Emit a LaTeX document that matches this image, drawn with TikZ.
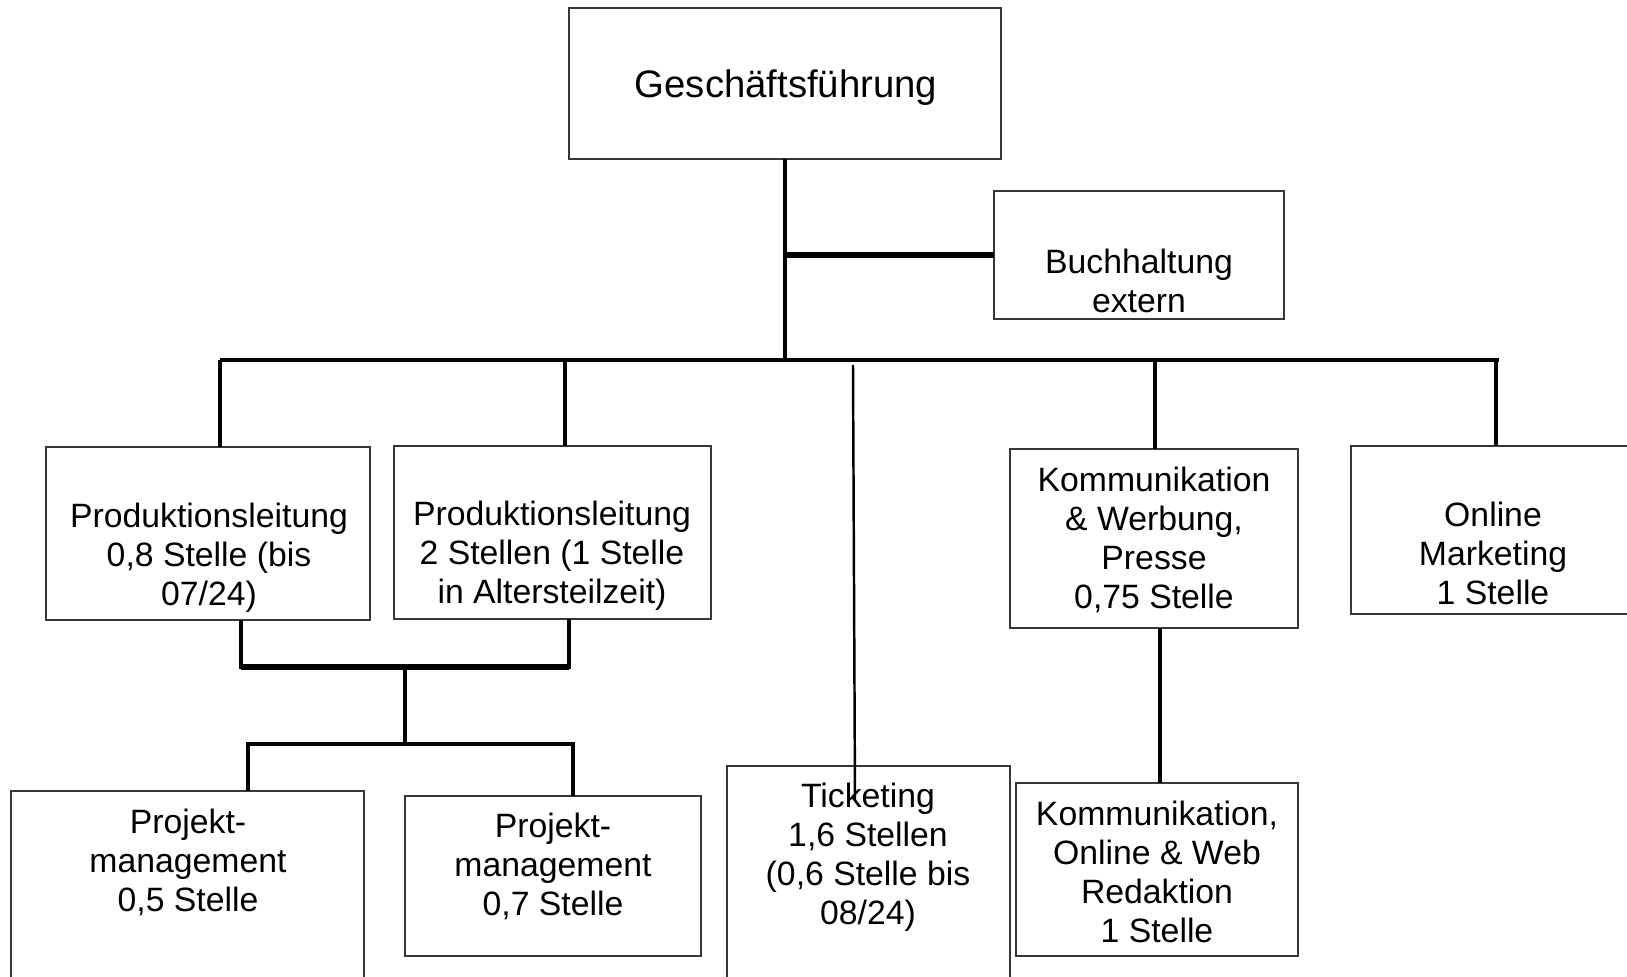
\documentclass[tikz,border=0pt]{standalone}
\usepackage{fontspec}
\setmainfont{Liberation Sans}
\usetikzlibrary{positioning,calc}
\definecolor{BoxGray}{RGB}{55,55,55}

\begin{document}
\begin{tikzpicture}[x=0.01cm,y=-0.01cm,
  box/.style={draw=BoxGray,line width=0.45pt,inner sep=0pt,outer sep=0pt},
  txt/.style={align=center,inner sep=0pt,font=\fontsize{9.6}{11.1}\selectfont},
  bar/.style={line width=1.2pt,line join=miter},
  hbar/.style={line width=1.5pt},
  tline/.style={line width=0.7pt},
]
\useasboundingbox (0,0) rectangle (1627,977);
\clip (0,0) rectangle (1627,977);
% boxes
\node[box,minimum width=4.32cm,minimum height=1.51cm] (gf) at (785,83.5) {};
\node[box,minimum width=2.90cm,minimum height=1.28cm] (bh) at (1139,255) {};
\node[box,minimum width=3.24cm,minimum height=1.73cm] (pl1) at (208,533.5) {};
\node[box,minimum width=3.17cm,minimum height=1.73cm] (pl2) at (552.5,532.5) {};
\node[box,minimum width=2.88cm,minimum height=1.79cm] (kwp) at (1154,538.5) {};
\node[box,minimum width=2.82cm,minimum height=1.68cm] (om) at (1492,530) {};
\node[box,minimum width=3.53cm,minimum height=2.09cm] (pm1) at (187.5,895.5) {};
\node[box,minimum width=2.96cm,minimum height=1.60cm] (pm2) at (553,876) {};
\node[box,minimum width=2.83cm,minimum height=2.34cm] (tix) at (868.5,883) {};
\node[box,minimum width=2.82cm,minimum height=1.73cm] (kow) at (1157,869.5) {};
% texts
\node[txt,font=\fontsize{10.9}{12.5}\selectfont] at (786,88) {Geschäftsführung};
\node[txt] at (1139,281) {Buchhaltung\\extern};
\node[txt] at (209,558) {Produktionsleitung\\0,8 Stelle (bis\\07/24)};
\node[txt] at (552,556) {Produktionsleitung\\2 Stellen (1 Stelle\\in Altersteilzeit)};
\node[txt] at (1154,540) {Kommunikation\\\& Werbung,\\Presse\\0,75 Stelle};
\node[txt] at (1493,553) {Online\\Marketing\\1 Stelle};
\node[txt] at (188,862) {Projekt-\\management\\0,5 Stelle};
\node[txt] at (553,866) {Projekt-\\management\\0,7 Stelle};
\node[txt] at (868,857) {Ticketing\\1,6 Stellen\\(0,6 Stelle bis\\08/24)};
\node[txt] at (1157,872) {Kommunikation,\\Online \& Web\\Redaktion\\1 Stelle};
% connectors
\coordinate (b1) at (220,360);
\coordinate (b2) at (565,360);
\coordinate (b3) at (853,365);
\coordinate (b4) at (1155,360);
\coordinate (b5) at (1496,360);
\coordinate (b6) at (1499,360);
\draw[bar] (gf.south) -- (gf.south |- b1);
\draw[hbar] (bh.west) -- (bh.west -| gf.south);
\draw[bar] (b1) -- (b6);
\foreach \c/\n in {b1/pl1,b2/pl2,b4/kwp,b5/om}
  \draw[bar] (\c) -- (\c |- \n.north);
\coordinate (tixend) at (855,799);
\draw[tline] (b3) -- (tixend);
% Produktionsleitung -> Projektmanagement
\coordinate (m1) at (241,667);
\coordinate (m2) at (569,667);
\coordinate (m0) at (405,667);
\coordinate (n0) at (405,744);
\coordinate (n1) at (248,744);
\coordinate (n2) at (573,744);
\draw[bar] (m1 |- pl1.south) -- (m1) -- (m2) -- (m2 |- pl2.south);
\draw[hbar] (m1) -- (m2);
\draw[bar] (m0) -- (n0);
\draw[bar] (n1 |- pm1.north) -- (n1) -- (n2) -- (n2 |- pm2.north);
% Kommunikation
\coordinate (kc) at (1160,700);
\draw[bar] (kc |- kwp.south) -- (kc |- kow.north);
\end{tikzpicture}
\end{document}
